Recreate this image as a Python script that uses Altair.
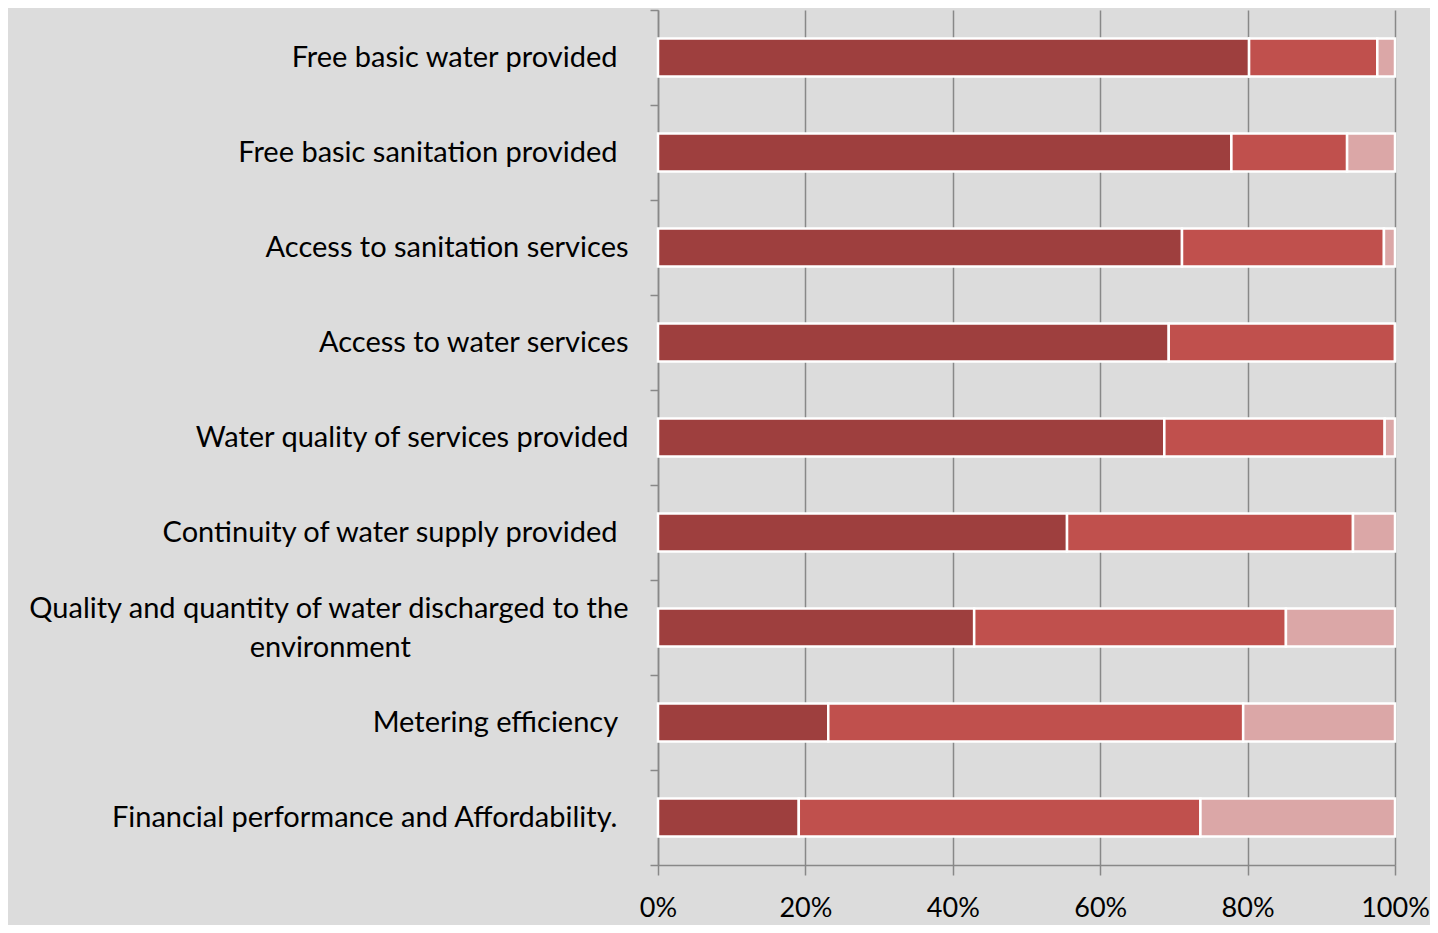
import altair as alt
import pandas as pd

categories = [
    "Free basic water provided",
    "Free basic sanitation provided",
    "Access to sanitation services",
    "Access to water services",
    "Water quality of services provided",
    "Continuity of water supply provided",
    "Quality and quantity of water discharged to the environment",
    "Metering efficiency",
    "Financial performance and Affordability.",
]
series_names = ["Series 1", "Series 2", "Series 3"]
s1 = [80.2, 77.8, 71.1, 69.3, 68.7, 55.5, 42.9, 23.1, 19.1]
s2 = [17.4, 15.7, 27.4, 30.7, 29.9, 38.8, 42.3, 56.3, 54.5]
s3 = [2.4, 6.5, 1.5, 0.0, 1.4, 5.7, 14.8, 20.6, 26.4]
colors = ["#9e3f3e", "#c0504d", "#dba7a7"]
# labels that carry a trailing space in the original
trailing_space = [
    "Free basic water provided",
    "Free basic sanitation provided",
    "Continuity of water supply provided",
    "Metering efficiency",
    "Financial performance and Affordability.",
]

rows = []
for i, c in enumerate(categories):
    for k, (name, vals) in enumerate(zip(series_names, [s1, s2, s3])):
        rows.append({"category": c, "series": name, "order": k, "value": vals[i]})
df = pd.DataFrame(rows)

long_label = "Quality and quantity of water discharged to the environment"
pad = "\u2002" * 15 + "\u200b"
trail_list = "[" + ",".join(f"'{t}'" for t in trailing_space) + "]"
label_expr = (
    f"datum.label == '{long_label}' ? "
    f"['Quality and quantity of water discharged to the', 'environment{pad}'] : "
    f"(indexof({trail_list}, datum.label) >= 0 ? datum.label + '\u00a0\u2009\u200b' : datum.label)"
)

chart = (
    alt.Chart(df)
    .mark_bar(stroke="white", strokeWidth=2.5, height={"band": 0.4})
    .encode(
        y=alt.Y(
            "category:N",
            sort=categories,
            scale=alt.Scale(paddingInner=0, paddingOuter=0),
            axis=alt.Axis(
                title=None,
                labelFont="Lato",
                labelFontSize=29,
                labelColor="black",
                labelLimit=650,
                labelPadding=22,
                labelLineHeight=39,
                labelExpr=label_expr,
                labelOffset={"condition": {"test": f"datum.label == '{long_label}'", "value": -19}, "value": 0},
                tickBand="extent",
                tickSize=8,
                tickColor="#888888",
                tickWidth=1.5,
                domainColor="#888888",
                domainWidth=1.5,
                grid=False,
            ),
        ),
        x=alt.X(
            "value:Q",
            stack="normalize",
            scale=alt.Scale(domain=[0, 1], nice=False),
            axis=alt.Axis(
                title=None,
                format="%",
                values=[0, 0.2, 0.4, 0.6, 0.8, 1.0],
                labelFont="Lato",
                labelFontSize=27,
                labelColor="black",
                labelPadding=20,
                labelFlush=False,
                tickSize=10,
                tickColor="#888888",
                tickWidth=1.5,
                domainColor="#888888",
                domainWidth=1.5,
                grid=True,
                gridColor="#888888",
                gridWidth=1.5,
            ),
        ),
        color=alt.Color(
            "series:N",
            scale=alt.Scale(domain=series_names, range=colors),
            legend=None,
        ),
        order=alt.Order("order:Q"),
    )
    .properties(
        width=737,
        height=855,
        autosize=alt.AutoSizeParams(type="none"),
        padding={"left": 650, "top": 2, "right": 35, "bottom": 60},
        background="#dcdcdc",
    )
    .configure_view(stroke=None)
)

chart.save("out.html", embed_options={"renderer": "svg", "actions": False})
